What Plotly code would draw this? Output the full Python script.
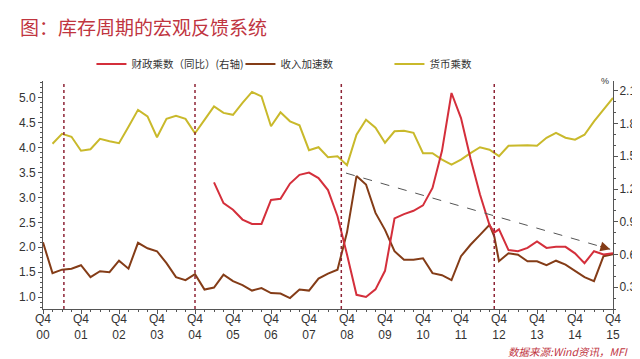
import plotly.graph_objects as go

# ---- data (quarter index: 0 = Q4 2000, 60 = Q4 2015) ----
year_labels = ["00", "01", "02", "03", "04", "05", "06", "07",
               "08", "09", "10", "11", "12", "13", "14", "15"]

money_q = list(range(1, 61))
money_mult = [4.08, 4.28, 4.22, 3.94, 3.97, 4.18, 4.13, 4.09, 4.42, 4.76,
              4.63, 4.21, 4.58, 4.64, 4.58, 4.29, 4.56, 4.83, 4.70, 4.66,
              4.90, 5.12, 5.03, 4.43, 4.71, 4.53, 4.45, 3.95, 4.01, 3.81,
              3.83, 3.65, 4.26, 4.56, 4.40, 4.10, 4.33, 4.34, 4.30, 3.89,
              3.89, 3.76, 3.66, 3.76, 3.89, 4.01, 3.96, 3.83, 4.04, 4.05,
              4.05, 4.04, 4.20, 4.30, 4.20, 4.16, 4.26, 4.53, 4.77, 5.00]

income_q = list(range(0, 48)) + [47.5] + list(range(48, 61))
income_acc = [2.10, 1.48, 1.55, 1.57, 1.64, 1.40, 1.52, 1.50, 1.73, 1.57,
              2.09, 1.98, 1.92, 1.68, 1.40, 1.34, 1.46, 1.15, 1.19, 1.45,
              1.32, 1.24, 1.13, 1.18, 1.08, 1.07, 0.98, 1.15, 1.13, 1.37,
              1.47, 1.55, 2.30, 3.43, 3.26, 2.69, 2.35, 1.92, 1.75, 1.75,
              1.78, 1.48, 1.44, 1.34, 1.82, 2.05, 2.25, 2.45, 2.22,
              1.72, 1.88, 1.85, 1.72, 1.72, 1.64, 1.73, 1.65, 1.52, 1.40,
              1.32, 1.82, 1.86]

fiscal_q = list(range(18, 48)) + [47.5] + list(range(48, 61))
fiscal_mult = [1.26, 1.07, 1.01, 0.92, 0.88, 0.88, 1.10, 1.11, 1.25, 1.33,
               1.35, 1.30, 1.19, 0.95, 0.60, 0.23, 0.21, 0.28, 0.45, 0.93,
               0.97, 1.00, 1.05, 1.21, 1.55, 2.08, 1.85, 1.48, 1.15, 0.87,
               0.80,
               0.83, 0.64, 0.63, 0.66, 0.72, 0.66, 0.67, 0.67, 0.61, 0.52,
               0.63, 0.60, 0.61]

cycle_marks = [2.2, 16.0, 31.4, 47.5]          # inventory-cycle turning points
trend_start = (31.9, 3.49)                     # dashed trend arrow (left axis units)
trend_end = (59.7, 1.96)

RED = "#d42f3b"
BROWN = "#843c17"
YELLOW = "#c9b92b"
TITLE_RED = "#c0353f"
FONT = "Noto Sans CJK SC, Liberation Sans, sans-serif"
NUM_FONT = "Liberation Sans, DejaVu Sans, sans-serif"

fig = go.Figure()
fig.add_trace(go.Scatter(x=fiscal_q, y=fiscal_mult, mode="lines",
                         name="财政乘数（同比）(右轴)", yaxis="y2",
                         line=dict(color=RED, width=2)))
fig.add_trace(go.Scatter(x=income_q, y=income_acc, mode="lines",
                         name="收入加速数", line=dict(color=BROWN, width=2)))
fig.add_trace(go.Scatter(x=money_q, y=money_mult, mode="lines",
                         name="货币乘数", line=dict(color=YELLOW, width=2)))

for xm in cycle_marks:
    fig.add_shape(type="line", xref="x", yref="paper", x0=xm, x1=xm, y0=0, y1=1,
                  line=dict(color="#8e2436", width=1.5, dash="dot"))

fig.add_shape(type="line", xref="x", yref="y",
              x0=trend_start[0], y0=trend_start[1], x1=trend_end[0], y1=trend_end[1],
              line=dict(color="#555555", width=1, dash="dash"))
slope = (trend_end[1] - trend_start[1]) / (trend_end[0] - trend_start[0])
fig.add_annotation(x=trend_end[0], y=trend_end[1], xref="x", yref="y",
                   ax=trend_end[0] - 1.2, ay=trend_end[1] - 1.2 * slope,
                   axref="x", ayref="y", text="", showarrow=True,
                   arrowhead=2, arrowsize=1.3, arrowwidth=1.5, arrowcolor=BROWN)

tickvals_x = [4 * k for k in range(len(year_labels))]
ticktext_x = ["Q4<br>" + y for y in year_labels]

axis_font = dict(family=NUM_FONT, size=12, color="#333333")
fig.update_layout(
    width=640, height=359,
    margin=dict(l=35, r=35, t=73, b=58),
    paper_bgcolor="white", plot_bgcolor="white",
    font=dict(family=FONT, size=11, color="#333333"),
    title=dict(text="图：库存周期的宏观反馈系统", xref="container", yref="container",
               x=12 / 640, xanchor="left", y=1 - 20 / 359, yanchor="middle",
               font=dict(family=FONT, size=19, color=TITLE_RED)),
    showlegend=True,
    legend=dict(orientation="h", x=0.085, xanchor="left", y=1.075, yanchor="middle",
                entrywidth=104, entrywidthmode="pixels",
                font=dict(family=FONT, size=10.5, color="#333333"),
                bgcolor="rgba(0,0,0,0)", itemwidth=30),
    xaxis=dict(range=[0, 60], tickmode="array", tickvals=tickvals_x, ticktext=ticktext_x,
               showline=True, linecolor="#555555", linewidth=1, showgrid=False,
               zeroline=False, ticks="outside", ticklen=4, tickcolor="#555555",
               tickfont=axis_font, ticklabelstandoff=-5,
               minor=dict(dtick=1, tick0=0, ticks="outside", ticklen=2, tickcolor="#555555")),
    yaxis=dict(range=[0.76, 5.34], dtick=0.5, tick0=1.0, tickformat=".1f",
               showline=True, linecolor="#555555", linewidth=1, showgrid=False,
               zeroline=False, ticks="outside", ticklen=4, tickcolor="#555555",
               tickfont=axis_font,
               minor=dict(dtick=0.1, tick0=0, ticks="outside", ticklen=2, tickcolor="#555555")),
    yaxis2=dict(range=[0.10, 2.19], overlaying="y", side="right",
                tickvals=[0.3, 0.6, 0.9, 1.2, 1.5, 1.8, 2.1], tickformat=".1f",
                showline=True, linecolor="#555555", linewidth=1, showgrid=False,
                zeroline=False, ticks="outside", ticklen=4, tickcolor="#555555",
                tickfont=axis_font, ticklabelstandoff=-1,
                minor=dict(dtick=0.1, tick0=0, ticks="outside", ticklen=2, tickcolor="#555555")),
)

fig.add_annotation(xref="paper", yref="paper", x=1.0, y=1.0, xanchor="right",
                   yanchor="middle", xshift=-2, text="%", showarrow=False,
                   font=dict(family=NUM_FONT, size=9, color="#333333"))
fig.add_annotation(xref="paper", yref="paper", x=1.03, y=-0.228, xanchor="right",
                   yanchor="bottom", text="<i>数据来源:Wind资讯，MFI</i>", showarrow=False,
                   font=dict(family=FONT, size=10.5, color=TITLE_RED))

fig.write_html("out.html")
